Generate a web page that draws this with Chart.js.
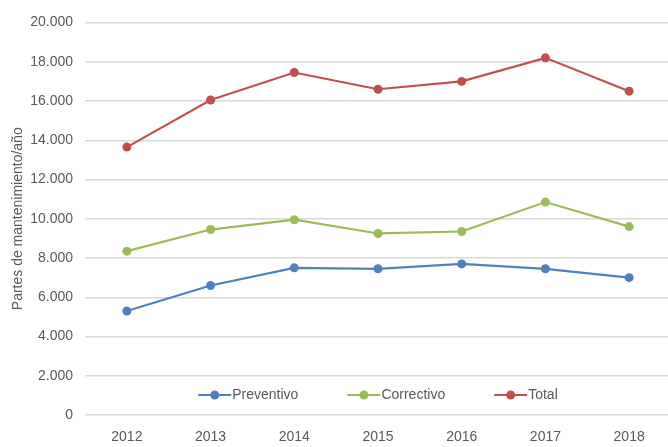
<!DOCTYPE html>
<html>
<head>
<meta charset="utf-8">
<script src="https://cdn.jsdelivr.net/npm/chart.js@4/dist/chart.umd.min.js"></script>
<style>
  html, body { margin: 0; padding: 0; background: #fff; overflow: hidden; }
  #wrap { width: 668px; height: 447px; overflow: hidden; position: relative; }
  #inner { width: 671px; height: 447px; position: relative; }
</style>
</head>
<body>
<div id="wrap"><div id="inner"><canvas id="partesChart"></canvas></div></div>
<script>
// Años y partes de mantenimiento por tipo
const years = ['2012', '2013', '2014', '2015', '2016', '2017', '2018'];
const preventivo = [5300, 6600, 7500, 7450, 7700, 7450, 7000];
const correctivo = [8350, 9450, 9950, 9250, 9350, 10850, 9600];
const total = [13650, 16050, 17450, 16600, 17000, 18200, 16500];

const TEXT_COLOR = '#595959';
const FONT = '"Liberation Sans", Arial, sans-serif';

// separador de miles con punto (2.000, 20.000)
function fmtMiles(v) {
    return String(Math.round(v)).replace(/\B(?=(\d{3})+(?!\d))/g, '.');
}

// Leyenda dentro del área del gráfico, centrada abajo
const leyendaInterior = {
    id: 'leyendaInterior',
    afterDraw(chart) {
        const ctx = chart.ctx;
        const area = chart.chartArea;
        const lineW = 33, gap = 49;
        ctx.save();
        ctx.font = '14px ' + FONT;
        ctx.textBaseline = 'middle';
        const items = chart.data.datasets.map(ds => ({
            ds, w: lineW + 1 + ctx.measureText(ds.label).width
        }));
        const totalW = items.reduce((s, it) => s + it.w, 0) + gap * (items.length - 1);
        let x = (area.left + area.right) / 2 - totalW / 2;
        const y = area.bottom - 20;
        items.forEach(it => {
            ctx.strokeStyle = it.ds.borderColor;
            ctx.lineWidth = 2;
            ctx.beginPath();
            ctx.moveTo(x, y);
            ctx.lineTo(x + lineW, y);
            ctx.stroke();
            ctx.fillStyle = it.ds.borderColor;
            ctx.beginPath();
            ctx.arc(x + lineW / 2, y, 4.5, 0, Math.PI * 2);
            ctx.fill();
            ctx.fillStyle = TEXT_COLOR;
            ctx.fillText(it.ds.label, x + lineW + 1, y);
            x += it.w + gap;
        });
        ctx.restore();
    }
};

function serie(label, data, color) {
    return {
        label: label,
        data: data,
        borderColor: color,
        backgroundColor: color,
        borderWidth: 2.2,
        tension: 0,
        pointRadius: 4.5,
        pointBorderWidth: 0,
        pointBackgroundColor: color,
        fill: false
    };
}

new Chart(document.getElementById('partesChart'), {
    type: 'line',
    data: {
        labels: years,
        datasets: [
            serie('Preventivo', preventivo, '#4F81BD'),
            serie('Correctivo', correctivo, '#9BBB59'),
            serie('Total', total, '#C0504D')
        ]
    },
    options: {
        responsive: true,
        maintainAspectRatio: false,
        animation: false,
        layout: {
            autoPadding: false,
            padding: { top: 22.5, right: 0, bottom: 0, left: 0 }
        },
        plugins: {
            legend: { display: false },
            tooltip: { enabled: false }
        },
        scales: {
            x: {
                offset: true,
                grid: { display: false, drawTicks: false },
                border: { display: false },
                ticks: {
                    color: TEXT_COLOR,
                    font: { family: FONT, size: 14 },
                    padding: 14
                },
                afterFit(scale) {
                    scale.height = 32;
                    scale.paddingLeft = 0;
                    scale.paddingRight = 0;
                }
            },
            y: {
                min: 0,
                max: 20000,
                grid: { color: '#d9d9d9', lineWidth: 1.5, drawTicks: false },
                border: { display: false },
                ticks: {
                    stepSize: 2000,
                    color: TEXT_COLOR,
                    font: { family: FONT, size: 14 },
                    padding: 12,
                    callback: v => fmtMiles(v)
                },
                title: {
                    display: true,
                    text: 'Partes de mantenimiento/año',
                    color: TEXT_COLOR,
                    font: { family: FONT, size: 14 },
                    padding: { top: 10, bottom: 0 }
                },
                afterFit(scale) {
                    scale.width = 85;
                    scale.paddingTop = 0;
                    scale.paddingBottom = 0;
                }
            }
        }
    },
    plugins: [leyendaInterior]
});
</script>
</body>
</html>
